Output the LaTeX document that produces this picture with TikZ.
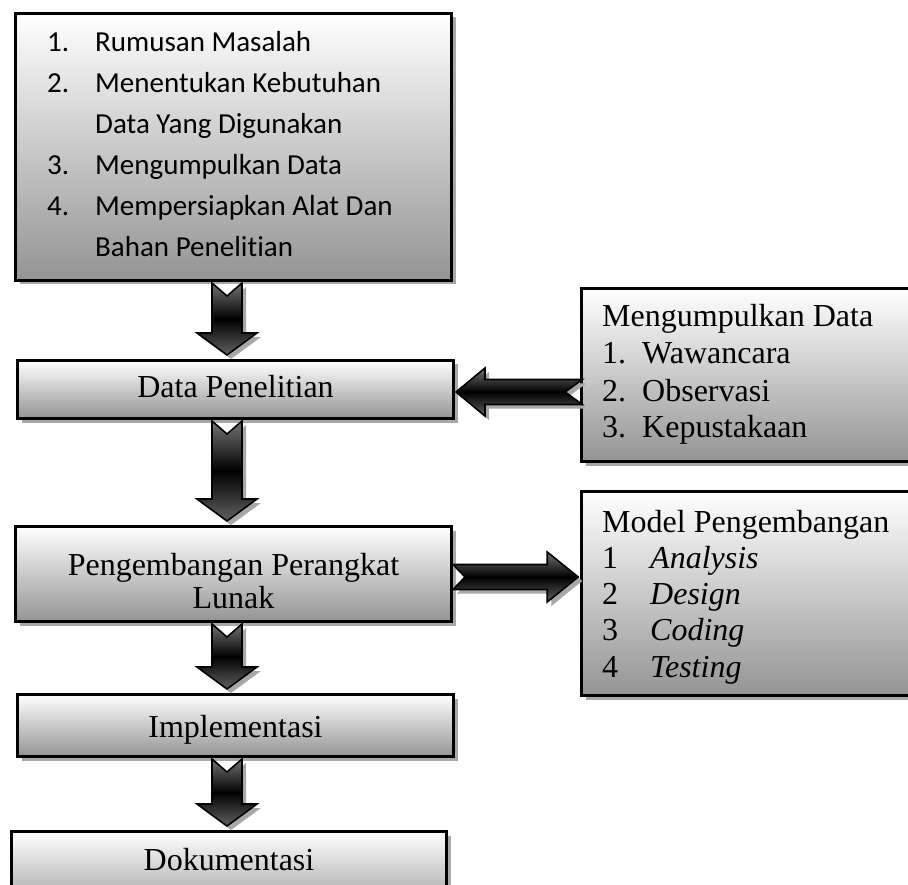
\documentclass[tikz,border=0pt]{standalone}
\usepackage{fontspec}
\setmainfont{Liberation Serif}
\newfontfamily\calibrifont[Ligatures=NoCommon]{Carlito}
\usetikzlibrary{calc,shadows}
\definecolor{boxbot}{gray}{0.58}
\definecolor{shadowgray}{gray}{0.66}
\tikzset{
 box/.style={draw=black, line width=3pt, rectangle, inner sep=0pt,
   top color=white, bottom color=boxbot,
   drop shadow={shadow xshift=4pt, shadow yshift=-4pt, fill=shadowgray, opacity=1}},
 lbl/.style={inner sep=0pt, anchor=base, font=\fontsize{32}{37}\selectfont},
 blk/.style={draw=black, line width=1.6pt, line join=miter,
   top color=black!55, bottom color=black!62, middle color=black,
   drop shadow={shadow xshift=4pt, shadow yshift=-4pt, fill=shadowgray, opacity=1}},
}
% vertical block arrow from #1 (south) to #2 (north)
\newcommand\dnarrow[2]{%
 \path[blk] let \p1=(#1.south -| ax), \p2=(#2.north -| ax) in
  (\x1-15pt,\y1-1pt) -- (\x1,\y1-14pt) -- (\x1+15pt,\y1-1pt) --
  (\x1+15pt,\y2+26pt) -- (\x1+30pt,\y2+26pt) -- (\x1,\y2+4pt) --
  (\x1-30pt,\y2+26pt) -- (\x1-15pt,\y2+26pt) -- cycle;}
% leftward block arrow from #1 (west) to #2 (east) at height of ly
\newcommand\lfarrow[2]{%
 \path[blk] let \p1=(#1.west |- ly), \p2=(#2.east |- ly) in
  (\x1+2pt,\y1+12.5pt) -- (\x1-15pt,\y1) -- (\x1+2pt,\y1-12.5pt) --
  (\x2+30pt,\y1-12.5pt) -- (\x2+30pt,\y1-24pt) -- (\x2+1pt,\y1) --
  (\x2+30pt,\y1+24pt) -- (\x2+30pt,\y1+12.5pt) -- cycle;}
% rightward block arrow from #1 (east) to #2 (west) at height of ry
\newcommand\rtarrow[2]{%
 \path[blk] let \p1=(#1.east |- ry), \p2=(#2.west |- ry) in
  (\x1,\y1+12.5pt) -- (\x1+12pt,\y1) -- (\x1,\y1-12.5pt) --
  (\x2-33pt,\y1-12.5pt) -- (\x2-33pt,\y1-25pt) -- (\x2-2pt,\y1) --
  (\x2-33pt,\y1+25pt) -- (\x2-33pt,\y1+12.5pt) -- cycle;}
\begin{document}
\begin{tikzpicture}[x=1pt,y=-1pt]
\path[use as bounding box] (0,0) rectangle (908,885);
\clip (0,0) rectangle (908,885);
\coordinate (ax) at (227,0);
\coordinate (ly) at (0,392);
\coordinate (ry) at (0,577);

% boxes
\node[box, minimum width=436pt, minimum height=267pt] (top) at (233.5,147) {};
\node[box, minimum width=436pt, minimum height=58pt] (dp) at (235.5,389.5) {};
\node[box, minimum width=436pt, minimum height=95pt] (pk) at (233.5,574) {};
\node[box, minimum width=436pt, minimum height=62pt] (im) at (235.5,725.5) {};
\node[box, minimum width=435pt, minimum height=87pt] (dk) at (229,875) {};
\node[box, minimum width=348pt, minimum height=173pt] (mk) at (755.75,375) {};
\node[box, minimum width=348pt, minimum height=204pt] (md) at (755.75,593.5) {};

% texts
\node[anchor=base west, inner sep=0pt, font=\calibrifont\fontsize{29}{41}\selectfont] (toptxt) at (47,52)
 {\begin{tabular}[t]{@{}p{48pt}@{}l@{}}
 1.&Rumusan Masalah\\
 2.&Menentukan Kebutuhan\\
   &Data Yang Digunakan\\
 3.&Mengumpulkan Data\\
 4.&Mempersiapkan Alat Dan\\
   &Bahan Penelitian
 \end{tabular}};
\node[lbl] (dpt) at (235.5,398) {Data Penelitian};
\node[lbl] (pkt1) at (233.5,575) {Pengembangan Perangkat};
\node[lbl] (pkt2) at (233.5,608) {Lunak};
\node[lbl] (imt) at (235.5,737) {Implementasi};
\node[lbl] (dkt) at (229,870) {Dokumentasi};
\node[anchor=base west, inner sep=0pt, font=\fontsize{32}{37}\selectfont] (mkt) at (602,327)
 {\begin{tabular}[t]{@{}p{40pt}@{}l@{}}
 \multicolumn{2}{@{}l@{}}{Mengumpulkan Data}\\
 1.&Wawancara\\
 2.&Observasi\\
 3.&Kepustakaan
 \end{tabular}};
\node[anchor=base west, inner sep=0pt, font=\fontsize{32}{36.3}\selectfont] (mdt) at (602,532)
 {\begin{tabular}[t]{@{}p{48pt}@{}l@{}}
 \multicolumn{2}{@{}l@{}}{Model Pengembangan}\\
 1&\textit{Analysis}\\
 2&\textit{Design}\\
 3&\textit{Coding}\\
 4&\textit{Testing}
 \end{tabular}};

% block arrows
\dnarrow{top}{dp}
\dnarrow{dp}{pk}
\dnarrow{pk}{im}
\dnarrow{im}{dk}
\lfarrow{mk}{dp}
\rtarrow{pk}{md}
\end{tikzpicture}
\end{document}
